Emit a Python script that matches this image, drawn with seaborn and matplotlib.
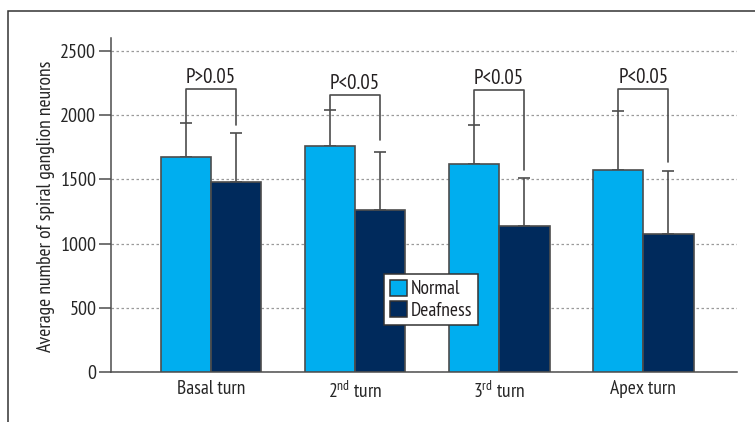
import pandas as pd
import matplotlib
matplotlib.use("Agg")
import matplotlib.pyplot as plt
import seaborn as sns
from matplotlib.patches import Rectangle

# data
turns = ["Basal turn", "2$^{\\rm nd}$ turn", "3$^{\\rm rd}$ turn", "Apex turn"]
groups = ["Normal", "Deafness"]
normal_mean = [1672, 1757, 1617, 1576]
normal_sd = [269, 281, 307, 459]
deaf_mean = [1480, 1262, 1137, 1075]
deaf_sd = [384, 451, 376, 493]

# significance brackets: top of bracket, bottom of each leg
p_labels = ["P>0.05", "P<0.05", "P<0.05", "P<0.05"]
bracket_top = [2202, 2157, 2196, 2202]
bracket_left = [1941, 2038, 1924, 2035]
bracket_right = [1924, 1807, 1573, 1635]

colors = ["#00AEEF", "#002A5C"]
FONT = "PT Sans Narrow"


def setup():
    sns.set_theme(style="white")
    plt.rcParams["font.family"] = [FONT, "DejaVu Sans"]
    plt.rcParams["mathtext.fontset"] = "custom"
    plt.rcParams["mathtext.rm"] = FONT
    plt.rcParams["mathtext.it"] = FONT
    plt.rcParams["text.color"] = "#231f20"


def main():
    setup()

    df = pd.DataFrame({
        "turn": turns * 2,
        "group": [groups[0]] * 4 + [groups[1]] * 4,
        "value": normal_mean + deaf_mean,
    })

    fig = plt.figure(figsize=(7.55, 4.22), dpi=100)
    ax = fig.add_axes([0.147, 0.1185, 0.829, 0.7915])

    sns.barplot(data=df, x="turn", y="value", hue="group", palette=colors,
                errorbar=None, width=0.7, edgecolor="#4d4d4d", linewidth=1.2,
                saturation=1, ax=ax, zorder=3)

    # upper-only error bars
    bars = ax.patches[:8]
    centers = [b.get_x() + b.get_width() / 2 for b in bars]
    means = normal_mean + deaf_mean
    sds = normal_sd + deaf_sd
    ax.errorbar(centers, means, yerr=[[0] * 8, sds], fmt="none",
                ecolor="#4d4d4d", elinewidth=1.2, capsize=4, capthick=1.2,
                zorder=2)

    # brackets
    for i in range(4):
        xl, xr = centers[i], centers[i + 4]
        ax.plot([xl, xl, xr, xr],
                [bracket_left[i], bracket_top[i], bracket_top[i], bracket_right[i]],
                color="#4d4d4d", lw=1.2, zorder=4)
        ax.text((xl + xr) / 2, bracket_top[i] + 15, p_labels[i],
                ha="center", va="bottom", fontsize=15, color="#231f20")

    ax.set_ylim(0, 2600)
    ax.set_xlim(-0.694, 3.65)
    ax.set_yticks([0, 500, 1000, 1500, 2000, 2500])
    ax.yaxis.grid(True, linestyle=(0, (2, 2)), color="#9a9a9a", lw=0.9)
    ax.set_axisbelow(True)
    ax.tick_params(axis="y", length=8.5, width=1.1, color="#4d4d4d",
                   labelsize=14.5, pad=2, direction="out", left=True)
    ax.tick_params(axis="x", length=0, labelsize=14, pad=6)
    ax.set_xlabel("")
    ax.set_ylabel("Average number of spiral ganglion neurons", fontsize=14)
    ax.yaxis.set_label_coords(-0.09, 0.497)
    sns.despine(ax=ax, top=True, right=True)
    for s in ["left", "bottom"]:
        ax.spines[s].set_color("#4d4d4d")
        ax.spines[s].set_linewidth(1.1)

    leg = ax.legend(loc="upper left", bbox_to_anchor=(0.436, 0.294),
                    frameon=True, fancybox=False, framealpha=1, fontsize=14,
                    handlelength=0.9, handleheight=0.9, handletextpad=0.2,
                    borderpad=0.3, labelspacing=0.12, borderaxespad=0)
    leg.get_frame().set_edgecolor("#333333")
    leg.get_frame().set_linewidth(1.1)
    for h in leg.legend_handles:
        h.set_edgecolor("#333333")
        h.set_linewidth(1.1)

    # outer frame (only top and left edges visible)
    fig.patches.append(Rectangle((8 / 755, -0.05), 1.2, 1 - 11 / 422 + 0.05,
                                 transform=fig.transFigure, fill=False,
                                 edgecolor="#333333", lw=1.1))

    fig.savefig("out.png", dpi=100)


if __name__ == "__main__":
    main()
